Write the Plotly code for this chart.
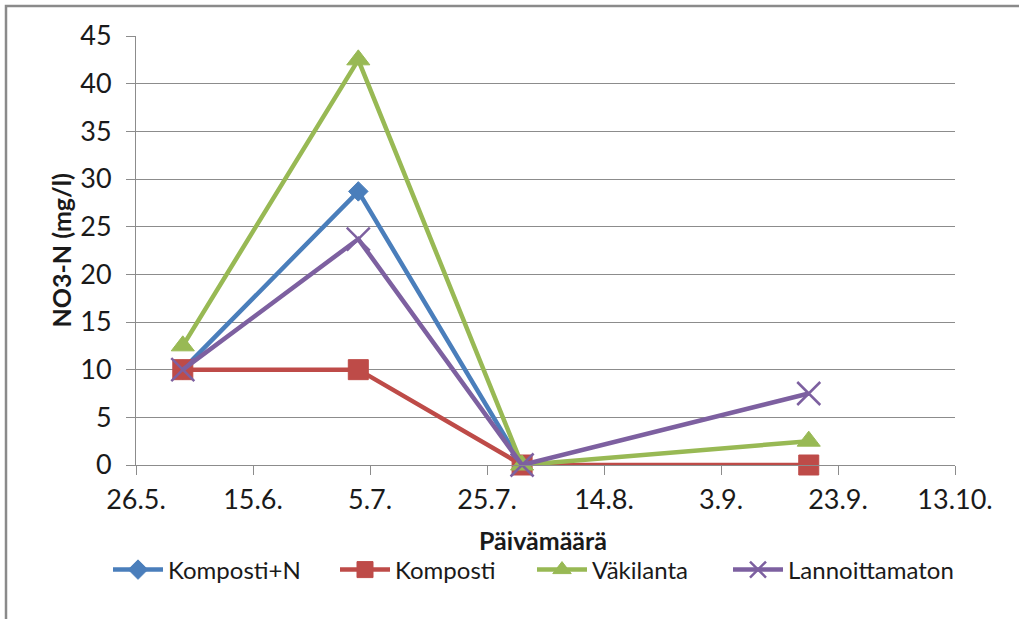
import plotly.graph_objects as go

# Sampling dates and NO3-N concentrations (mg/l)
dates = ["2010-06-03", "2010-07-03", "2010-07-31", "2010-09-18"]
komposti_n = [10.0, 28.7, 0.0, None]
komposti = [10.0, 10.0, 0.0, 0.0]
vakilanta = [12.5, 42.5, 0.0, 2.5]
lannoittamaton = [10.0, 23.7, 0.0, 7.5]

# Date axis ticks every 20 days
tick_dates = ["2010-05-26", "2010-06-15", "2010-07-05", "2010-07-25",
              "2010-08-14", "2010-09-03", "2010-09-23", "2010-10-13"]
tick_labels = ["26.5.", "15.6.", "5.7.", "25.7.", "14.8.", "3.9.", "23.9.", "13.10."]

FONT = "Lato, Open Sans, sans-serif"
GRID = "#8c8c8c"
TICK_FS = 27
LEG_FS = 24

# plot area in pixels: x 136..955, y 36..465
L, R, T, B = 136, 64, 36, 154
PW, PH = 1019 - L - R, 619 - T - B

series = [
    ("Komposti+N", komposti_n, "#4a7ebb", dict(symbol="diamond", size=15)),
    ("Komposti", komposti, "#be4b48", dict(symbol="square", size=20)),
    ("Väkilanta", vakilanta, "#98b954", dict(symbol="triangle-up", size=20)),
    ("Lannoittamaton", lannoittamaton, "#7d60a0", dict(symbol="x-thin-open", size=23)),
]
# each legend entry gets its own legend box, left edges in pixels
legend_left = [108, 335, 532, 728]
legend_ids = ["legend", "legend2", "legend3", "legend4"]

fig = go.Figure()
for (name, vals, color, mk), lid in zip(series, legend_ids):
    marker = dict(color=color, **mk)
    marker["line"] = dict(color=color, width=2.5 if mk["symbol"] == "x-thin-open" else 1)
    fig.add_trace(go.Scatter(
        x=dates, y=vals, name=name, mode="lines+markers",
        line=dict(color=color, width=4.5),
        marker=marker,
        connectgaps=False,
        cliponaxis=False,
        legend=lid,
    ))

legend_style = dict(orientation="h", xanchor="left", y=(465 - 570) / PH, yanchor="middle",
                    font=dict(size=LEG_FS), itemwidth=50, bgcolor="rgba(0,0,0,0)")
legends = {lid: dict(x=(px - L) / PW, **legend_style) for lid, px in zip(legend_ids, legend_left)}

fig.update_layout(
    width=1019, height=619,
    margin=dict(l=L, r=R, t=T, b=B, autoexpand=False),
    paper_bgcolor="white", plot_bgcolor="white",
    font=dict(family=FONT, size=LEG_FS, color="#1a1a1a"),
    showlegend=True,
    **legends,
    xaxis=dict(
        type="date",
        range=["2010-05-26", "2010-10-13"],
        tickmode="array", tickvals=tick_dates, ticktext=tick_labels,
        tickangle=0,
        showgrid=False, zeroline=False,
        showline=True, linecolor=GRID, linewidth=1,
        ticks="outside", ticklen=9, tickcolor=GRID,
        ticklabelstandoff=2,
        tickfont=dict(size=TICK_FS),
    ),
    yaxis=dict(
        range=[0, 45], dtick=5, tick0=0,
        showgrid=True, gridcolor=GRID, gridwidth=1,
        zeroline=False,
        showline=True, linecolor=GRID, linewidth=1,
        ticks="outside", ticklen=9, tickcolor=GRID,
        ticklabelstandoff=9,
        tickfont=dict(size=TICK_FS),
    ),
    annotations=[
        dict(text="<b>Päivämäärä</b>", xref="paper", yref="paper",
             x=(543 - L) / PW, y=(465 - 540) / PH, xanchor="center", yanchor="middle",
             showarrow=False, font=dict(size=25)),
        dict(text="<b>NO3-N (mg/l)</b>", xref="paper", yref="paper",
             x=(60 - L) / PW, y=0.5, xanchor="center", yanchor="middle",
             textangle=-90, showarrow=False, font=dict(size=25)),
    ],
    shapes=[
        dict(type="rect", xref="paper", yref="paper",
             x0=(6 - L) / PW, x1=(1030 - L) / PW,
             y0=(465 - 630) / PH, y1=1 + (36 - 6) / PH,
             line=dict(color="#8a8a8a", width=2.5), fillcolor="rgba(0,0,0,0)",
             layer="below"),
    ],
)

fig.write_html("out.html")
